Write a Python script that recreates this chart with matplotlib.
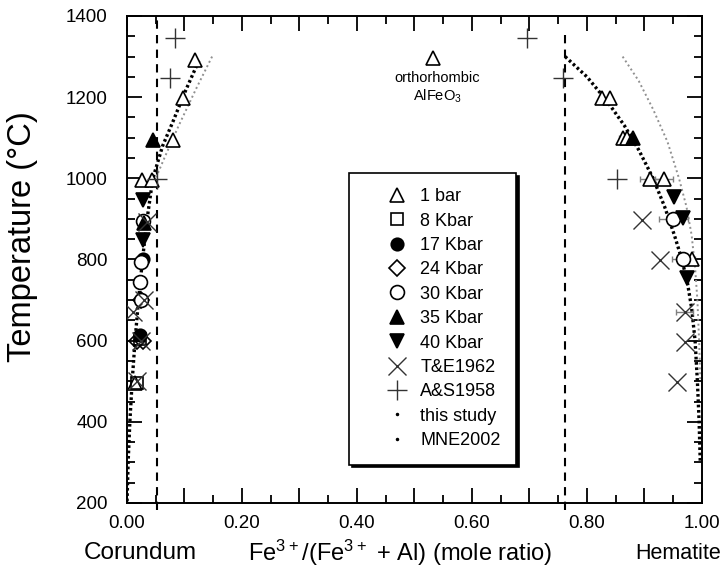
import matplotlib
matplotlib.use("Agg")
import matplotlib.pyplot as plt
from matplotlib.lines import Line2D
from matplotlib.ticker import MultipleLocator, FixedLocator

plt.rcParams['font.family'] = ['Liberation Sans', 'DejaVu Sans']
plt.rcParams['mathtext.default'] = 'regular'

# ---- data (x = Fe3+/(Fe3+ + Al), T in deg C) ----
bar1_x = [0.118, 0.097, 0.080, 0.026, 0.043, 0.014, 0.826, 0.840, 0.863, 0.870, 0.910, 0.934, 0.983]
bar1_T = [1292, 1197, 1094, 996, 996, 495, 1197, 1197, 1100, 1100, 998, 998, 800]
ortho_x = [0.532]
ortho_T = [1296]
k8_x = [0.022, 0.018]
k8_T = [605, 495]
k17_x = [0.027, 0.022, 0.024]
k17_T = [800, 615, 700]
k24_x = [0.024, 0.018, 0.028]
k24_T = [700, 600, 600]
k30_x = [0.028, 0.025, 0.023, 0.025, 0.950, 0.967]
k30_T = [895, 795, 745, 700, 900, 800]
k35_x = [0.045, 0.030, 0.880]
k35_T = [1094, 890, 1100]
k40_x = [0.028, 0.028, 0.951, 0.967, 0.974]
k40_T = [946, 848, 953, 903, 754]
te_x = [0.034, 0.010, 0.030, 0.018, 0.025, 0.896, 0.927, 0.970, 0.970, 0.956]
te_T = [892, 670, 700, 500, 600, 897, 798, 670, 597, 498]
as_x = [0.083, 0.075, 0.052, 0.696, 0.758, 0.852]
as_T = [1345, 1247, 998, 1345, 1247, 998]

# error bars (x, T, xerr)
err_x = [0.910, 0.934, 0.950, 0.967, 0.866, 0.970]
err_T = [998, 998, 900, 800, 1100, 670]
err_dx = [0.018, 0.015, 0.025, 0.02, 0.01, 0.015]

# solvus curves: this study (left / right) and MNE2002 (left / right)
study_lx = [0.125, 0.100, 0.080, 0.062, 0.045, 0.035, 0.027, 0.020, 0.014, 0.009, 0.005, 0.002, 0.0]
study_lT = [1290, 1210, 1140, 1080, 1000, 900, 800, 700, 600, 500, 400, 300, 200]
study_rx = [0.762, 0.800, 0.835, 0.865, 0.890, 0.915, 0.935, 0.952, 0.965, 0.975, 0.982, 0.988, 0.992, 0.995, 0.997]
study_rT = [1300, 1250, 1190, 1130, 1070, 1000, 930, 860, 800, 740, 680, 600, 500, 400, 300]
mne_lx = [0.148, 0.120, 0.090, 0.065, 0.050]
mne_lT = [1300, 1220, 1130, 1050, 1000]
mne_rx = [0.862, 0.890, 0.915, 0.940, 0.960, 0.973, 0.982, 0.988, 0.992, 0.995, 0.997]
mne_rT = [1300, 1240, 1170, 1090, 1000, 930, 860, 780, 700, 600, 500]

solvus_x = [0.052, 0.762]

legend_labels = ['1 bar', '8 Kbar', '17 Kbar', '24 Kbar', '30 Kbar', '35 Kbar',
                 '40 Kbar', 'T&E1962', 'A&S1958', 'this study', 'MNE2002']

fig = plt.figure(figsize=(7.24, 5.73), dpi=100)
ax = fig.add_axes([0.1754, 0.1222, 0.9696 - 0.1754, 0.9721 - 0.1222])

# curves
ax.plot(mne_lx, mne_lT, color='#909090', lw=1.4, ls=(0, (1, 1.5)), zorder=2)
ax.plot(mne_rx, mne_rT, color='#909090', lw=1.4, ls=(0, (1, 1.5)), zorder=2)
ax.plot(study_lx, study_lT, color='black', lw=2.4, ls=(0, (0.8, 0.8)), zorder=2)
ax.plot(study_rx, study_rT, color='black', lw=2.4, ls=(0, (0.8, 0.8)), zorder=2)

# vertical dashed solvus lines
ax.axvline(solvus_x[0], ymin=-0.015, ymax=1.0, color='black', lw=1.5,
           ls=(0, (4, 3)), clip_on=False, zorder=1)
ax.axvline(solvus_x[1], ymin=-0.015, ymax=0.97, color='black', lw=1.5,
           ls=(0, (4, 3)), clip_on=False, zorder=1)

# error bars
ax.errorbar(err_x, err_T, xerr=err_dx, fmt='none', ecolor='#808080',
            elinewidth=1.0, capsize=2, zorder=2)

ms = 10
mew = 1.2
ax.plot(bar1_x, bar1_T, ls='none', marker='^', ms=ms, mfc='white', mec='black', mew=mew, zorder=3)
ax.plot(ortho_x, ortho_T, ls='none', marker='^', ms=ms, mfc='white', mec='black', mew=mew, zorder=3)
ax.plot(k8_x, k8_T, ls='none', marker='s', ms=9, mfc='none', mec='black', mew=mew, zorder=3)
ax.plot(k17_x, k17_T, ls='none', marker='o', ms=9, mfc='black', mec='black', mew=mew, zorder=3)
ax.plot(k24_x, k24_T, ls='none', marker='D', ms=8, mfc='none', mec='black', mew=mew, zorder=3)
ax.plot(k30_x, k30_T, ls='none', marker='o', ms=10, mfc='white', mec='black', mew=mew, zorder=3)
ax.plot(k35_x, k35_T, ls='none', marker='^', ms=ms, mfc='black', mec='black', mew=mew, zorder=3)
ax.plot(k40_x, k40_T, ls='none', marker='v', ms=ms, mfc='black', mec='black', mew=mew, zorder=3)
ax.plot(te_x, te_T, ls='none', marker='x', ms=13, mec='#333333', mew=1.0, zorder=3)
ax.plot(as_x, as_T, ls='none', marker='+', ms=14, mec='#333333', mew=1.0, zorder=3)

ax.text(0.54, 1248, 'orthorhombic', ha='center', va='center', fontsize=10.5)
ax.text(0.54, 1202, 'AlFeO$_3$', ha='center', va='center', fontsize=10.5)

# axes
ax.set_xlim(0, 1.0)
ax.set_ylim(200, 1400)
ax.xaxis.set_major_locator(FixedLocator([0.0, 0.1, 0.2, 0.3, 0.4, 0.5, 0.6, 0.7, 0.8, 0.9, 1.0]))
ax.xaxis.set_minor_locator(MultipleLocator(0.05))
ax.set_xticklabels(['0.00', '', '0.20', '', '0.40', '', '0.60', '', '0.80', '', '1.00'])
ax.yaxis.set_major_locator(MultipleLocator(200))
ax.yaxis.set_minor_locator(MultipleLocator(50))
ax.tick_params(which='both', direction='in', top=True, right=True, width=1.3, labelsize=13.5)
ax.tick_params(which='major', length=11)
ax.tick_params(which='minor', length=6)
ax.tick_params(axis='x', which='major', pad=9)
ax.tick_params(axis='y', which='major', pad=14)
for s in ax.spines.values():
    s.set_linewidth(1.4)

ax.set_ylabel('Temperature (°C)', fontsize=23.5)
ax.yaxis.set_label_coords(-0.155, 0.546)
ax.text(0.475, -0.103, 'Fe$^{3+}$/(Fe$^{3+}$ + Al) (mole ratio)', transform=ax.transAxes,
        ha='center', va='center', fontsize=17)
ax.text(0.023, -0.103, 'Corundum', transform=ax.transAxes, ha='center', va='center', fontsize=17.5)
ax.text(1.033, -0.103, 'Hematite', transform=ax.transAxes, ha='right', va='center', fontsize=15.5)

# legend
handles = [
    Line2D([], [], ls='none', marker='^', ms=ms, mfc='white', mec='black', mew=mew),
    Line2D([], [], ls='none', marker='s', ms=9, mfc='white', mec='black', mew=mew),
    Line2D([], [], ls='none', marker='o', ms=9, mfc='black', mec='black', mew=mew),
    Line2D([], [], ls='none', marker='D', ms=8, mfc='white', mec='black', mew=mew),
    Line2D([], [], ls='none', marker='o', ms=10, mfc='white', mec='black', mew=mew),
    Line2D([], [], ls='none', marker='^', ms=ms, mfc='black', mec='black', mew=mew),
    Line2D([], [], ls='none', marker='v', ms=ms, mfc='black', mec='black', mew=mew),
    Line2D([], [], ls='none', marker='x', ms=13, mec='#333333', mew=1.0),
    Line2D([], [], ls='none', marker='+', ms=14, mec='#333333', mew=1.0),
    Line2D([], [], ls='none', marker='.', ms=3, mfc='black', mec='black'),
    Line2D([], [], ls='none', marker='.', ms=3, mfc='black', mec='black'),
]
leg = ax.legend(handles, legend_labels, loc='upper left', bbox_to_anchor=(0.386, 0.678),
                fontsize=13, frameon=True, fancybox=False, edgecolor='black',
                labelspacing=0.41, handletextpad=-0.5, borderpad=0.85, handlelength=3.6,
                borderaxespad=0.0, shadow={'color': 'black', 'alpha': 1.0})
leg.get_frame().set_linewidth(1.2)

fig.savefig('out.png', dpi=100)
